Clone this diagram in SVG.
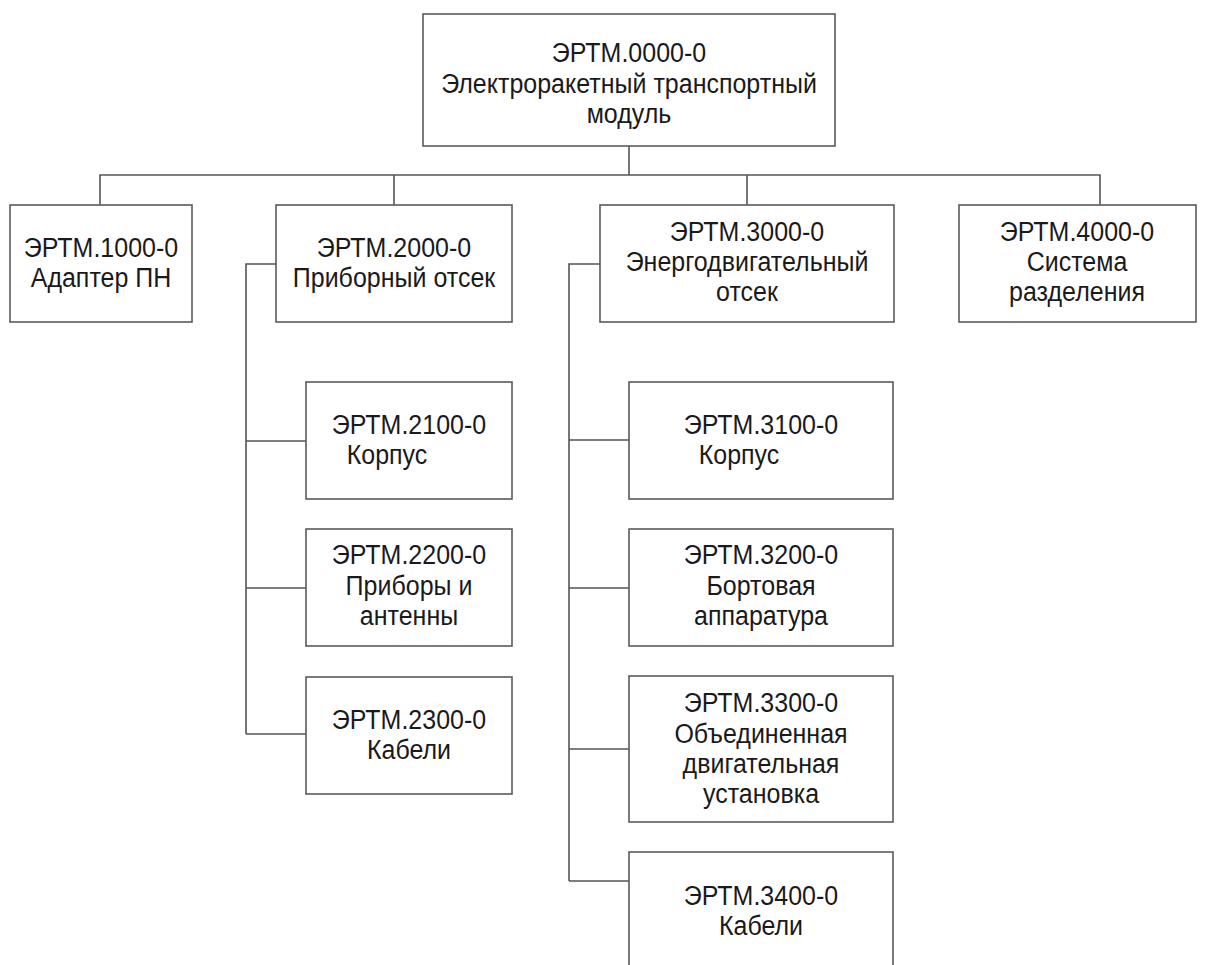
<svg xmlns="http://www.w3.org/2000/svg" width="1206" height="965" viewBox="0 0 1206 965">
<style>
rect{fill:#fff;stroke:#5a5a5a;stroke-width:1.6}
#connectors path{fill:none;stroke:#555;stroke-width:1.6}
text{font-family:"Liberation Sans",Arial,sans-serif;font-size:25px;fill:#1a1a1a;text-anchor:middle}
</style>
<rect x="0" y="0" width="1206" height="965" style="fill:#fff;stroke:none"/>
<g id="connectors">
<path d="M629 146V175M100 205V175H1100V205M394 175V205M747 175V205"/>
<path d="M276 264H246V734M246 441H306M246 588H306M246 734H306"/>
<path d="M600 264H569V881M569 440H629M569 588H629M569 749H629M569 881H629"/>
</g>
<g id="n0000">
<rect x="423" y="14" width="412" height="132"/>
<text transform="translate(629 62) scale(1 1.12)">ЭРТМ.0000-0</text>
<text transform="translate(629 93) scale(1 1.12)">Электроракетный транспортный</text>
<text transform="translate(629 123) scale(1 1.12)">модуль</text>
</g>
<g id="n1000">
<rect x="10" y="205" width="182" height="117"/>
<text transform="translate(101 257) scale(1 1.12)">ЭРТМ.1000-0</text>
<text transform="translate(101 287) scale(1 1.12)">Адаптер ПН</text>
</g>
<g id="n2000">
<rect x="276" y="205" width="236" height="117"/>
<text transform="translate(394 257) scale(1 1.12)">ЭРТМ.2000-0</text>
<text transform="translate(394 287) scale(1 1.12)">Приборный отсек</text>
</g>
<g id="n3000">
<rect x="600" y="205" width="294" height="117"/>
<text transform="translate(747 241) scale(1 1.12)">ЭРТМ.3000-0</text>
<text transform="translate(747 271) scale(1 1.12)">Энергодвигательный</text>
<text transform="translate(747 301) scale(1 1.12)">отсек</text>
</g>
<g id="n4000">
<rect x="959" y="205" width="237" height="117"/>
<text transform="translate(1077 241) scale(1 1.12)">ЭРТМ.4000-0</text>
<text transform="translate(1077 271) scale(1 1.12)">Система</text>
<text transform="translate(1077 301) scale(1 1.12)">разделения</text>
</g>
<g id="n2100">
<rect x="306" y="382" width="206" height="117"/>
<text transform="translate(409 434) scale(1 1.12)">ЭРТМ.2100-0</text>
<text transform="translate(387 464) scale(1 1.12)">Корпус</text>
</g>
<g id="n2200">
<rect x="306" y="529" width="206" height="117"/>
<text transform="translate(409 564) scale(1 1.12)">ЭРТМ.2200-0</text>
<text transform="translate(409 595) scale(1 1.12)">Приборы и</text>
<text transform="translate(409 625) scale(1 1.12)">антенны</text>
</g>
<g id="n2300">
<rect x="306" y="677" width="206" height="117"/>
<text transform="translate(409 729) scale(1 1.12)">ЭРТМ.2300-0</text>
<text transform="translate(409 759) scale(1 1.12)">Кабели</text>
</g>
<g id="n3100">
<rect x="629" y="382" width="264" height="117"/>
<text transform="translate(761 434) scale(1 1.12)">ЭРТМ.3100-0</text>
<text transform="translate(739 464) scale(1 1.12)">Корпус</text>
</g>
<g id="n3200">
<rect x="629" y="529" width="264" height="117"/>
<text transform="translate(761 564) scale(1 1.12)">ЭРТМ.3200-0</text>
<text transform="translate(761 595) scale(1 1.12)">Бортовая</text>
<text transform="translate(761 625) scale(1 1.12)">аппаратура</text>
</g>
<g id="n3300">
<rect x="629" y="676" width="264" height="146"/>
<text transform="translate(761 712) scale(1 1.12)">ЭРТМ.3300-0</text>
<text transform="translate(761 743) scale(1 1.12)">Объединенная</text>
<text transform="translate(761 773) scale(1 1.12)">двигательная</text>
<text transform="translate(761 803) scale(1 1.12)">установка</text>
</g>
<g id="n3400">
<rect x="629" y="852" width="264" height="130"/>
<text transform="translate(761 905) scale(1 1.12)">ЭРТМ.3400-0</text>
<text transform="translate(761 935) scale(1 1.12)">Кабели</text>
</g>
</svg>
